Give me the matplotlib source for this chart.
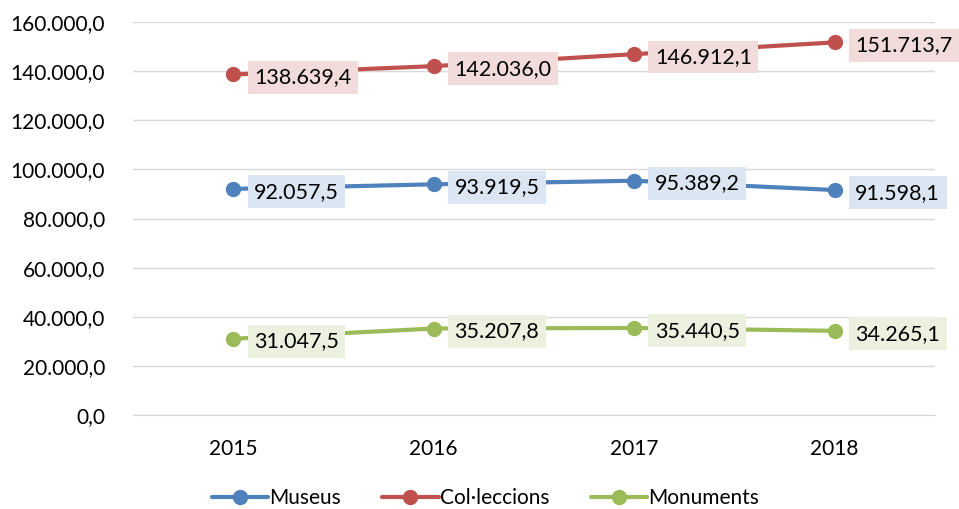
import matplotlib.pyplot as plt

years = ["2015", "2016", "2017", "2018"]
museus = [92057.5, 93919.5, 95389.2, 91598.1]
colleccions = [138639.4, 142036.0, 146912.1, 151713.7]
monuments = [31047.5, 35207.8, 35440.5, 34265.1]

series = [
    ("Museus", museus, "#4F81BD", "#DCE6F2"),
    ("Col·leccions", colleccions, "#C0504D", "#F2DCDB"),
    ("Monuments", monuments, "#9BBB59", "#EBF1DE"),
]

plt.rcParams["font.family"] = ["Lato", "DejaVu Sans"]


def fmt(v):
    s = f"{v:,.1f}"
    return s.replace(",", "X").replace(".", ",").replace("X", ".")


fig = plt.figure(figsize=(9.59, 5.09), dpi=100)
ax = fig.add_axes([0.1387, 0.1847, 0.836, 0.772])

x = list(range(len(years)))
for name, vals, col, light in series:
    ax.plot(x, vals, color=col, lw=3, marker="o", ms=10, label=name,
            solid_capstyle="round", zorder=3)
    for xi, v in zip(x, vals):
        ax.annotate(fmt(v), (xi, v), xytext=(15, -2), textcoords="offset points",
                    ha="left", va="center", fontsize=15.5,
                    bbox=dict(boxstyle="square,pad=0.3", fc=light, ec="none"),
                    zorder=4)

ax.set_xlim(-0.5, 3.5)
ax.set_ylim(0, 160000)
ax.set_yticks(range(0, 160001, 20000))
ax.set_yticklabels([fmt(t) for t in range(0, 160001, 20000)], fontsize=15)
ax.set_xticks(x)
ax.set_xticklabels(years, fontsize=15)
ax.tick_params(length=0)
ax.tick_params(axis="y", pad=20)
ax.tick_params(axis="x", pad=17)
ax.grid(axis="y", color="#D9D9D9", lw=1)
ax.set_axisbelow(True)
for s in ["top", "right", "left"]:
    ax.spines[s].set_visible(False)
ax.spines["bottom"].set_color("#D9D9D9")

fig.legend(loc="lower center", ncol=3, frameon=False, fontsize=15,
           bbox_to_anchor=(0.506, -0.035), handlelength=2.7, columnspacing=2.0,
           handletextpad=0.05)

fig.savefig("out.png", dpi=100)
